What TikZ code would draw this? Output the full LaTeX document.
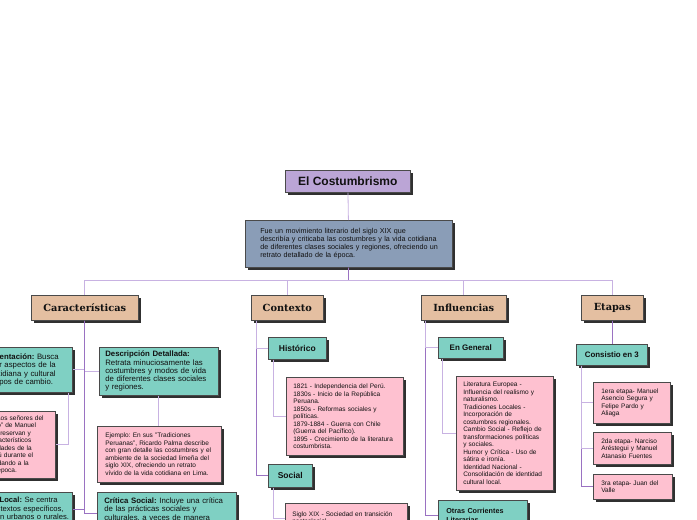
\documentclass[tikz,border=0pt]{standalone}
\usepackage{fontspec}
\setmainfont{Liberation Sans}
\newfontfamily\hdrfont{DejaVu Serif}
\usetikzlibrary{shadows}
\frenchspacing
\definecolor{titlec}{HTML}{BBA5D6}
\definecolor{descc}{HTML}{8A9DB7}
\definecolor{hdrc}{HTML}{E4BFA1}
\definecolor{tealc}{HTML}{7FD0C3}
\definecolor{pinkc}{HTML}{FEC1D0}
\definecolor{bordc}{HTML}{4A4A4A}
\definecolor{shadc}{HTML}{303030}
\definecolor{linec}{HTML}{9A72C2}
\definecolor{linel}{HTML}{C8B2E2}
\definecolor{textc}{HTML}{111111}
\begin{document}
\begin{tikzpicture}[x=1pt,y=-1pt,
 base/.style={draw=bordc, line width=0.6pt, anchor=north west, inner sep=0pt, text=textc,
   drop shadow={shadow xshift=2.5pt, shadow yshift=-2.5pt, fill=shadc, opacity=1}},
 sz/.style 2 args={minimum width=#1pt, minimum height=#2pt},
 ls/.style={execute at begin node={\leftskip=#1pt\relax}},
 titlebox/.style={base, fill=titlec, font=\bfseries\fontsize{12}{14}\selectfont},
 descbox/.style={base, fill=descc, align=left, font=\fontsize{7.2}{7.8}\selectfont},
 hdrbox/.style={base, fill=hdrc, font=\hdrfont\bfseries\fontsize{9.8}{11}\selectfont},
 tealbox/.style={base, fill=tealc, align=left, font=\fontsize{7.8}{8.3}\selectfont},
 lblbox/.style={base, fill=tealc, font=\bfseries\fontsize{8.5}{10}\selectfont},
 pinkbox/.style={base, fill=pinkc, align=left, font=\fontsize{6.5}{7.5}\selectfont},
 conn/.style={draw=linec, line width=0.8pt},
 connl/.style={draw=linel, line width=0.8pt},
]
\useasboundingbox (0,0) rectangle (697,520);
\fill[white] (0,0) rectangle (697,520);
\clip (0,0) rectangle (697,520);

% top
\node[titlebox, sz={125}{22}] (title) at (285,170) {El Costumbrismo};
\node[descbox, sz={207}{47}, text width=194pt, ls=8.5] (desc) at (245,220) {Fue un movimiento literario del siglo XIX que\\ describía y criticaba las costumbres y la vida cotidiana\\ de diferentes clases sociales y regiones, ofreciendo un\\ retrato detallado de la época.};

% headers
\node[hdrbox, sz={107}{25}] (car) at (31,295) {Características};
\node[hdrbox, sz={72}{25}] (ctx) at (251,295) {Contexto};
\node[hdrbox, sz={85}{25}] (inf) at (421,295) {Influencias};
\node[hdrbox, sz={62}{25}] (eta) at (581,295) {Etapas};

% Caracteristicas
\node[tealbox, sz={106}{45}, text width=92pt] (doc) at (-34,347) {\textbf{Documentación:} Busca\\ registrar aspectos de la\\ vida cotidiana y cultural\\ en tiempos de cambio.};
\node[tealbox, sz={119}{48}, text width=107pt] (descr) at (99,347) {\textbf{Descripción Detallada:}\\ Retrata minuciosamente las\\ costumbres y modos de vida\\ de diferentes clases sociales\\ y regiones.};
\node[pinkbox, sz={106}{67}, text width=90pt] (lpink) at (-51,411) {Ejemplo: En "Los señores del\\ Pueblo Limeño" de Manuel\\ Ascencio, se preservan y\\ los rasgos característicos\\ y las peculiaridades de la\\ vida en el Perú durante el\\ siglo XIX, ayudando a la\\ imagen de la época.};
\node[pinkbox, sz={124}{56}, text width=108pt] (ej) at (97,426) {Ejemplo: En sus "Tradiciones\\ Peruanas", Ricardo Palma describe\\ con gran detalle las costumbres y el\\ ambiente de la sociedad limeña del\\ siglo XIX, ofreciendo un retrato\\ vívido de la vida cotidiana en Lima.};
\node[tealbox, sz={102}{34}, text width=100pt, ls=6, font=\fontsize{7.6}{8.3}\selectfont] (local) at (-30,492) {\textbf{Color Local:} Se centra\\ en contextos específicos,\\ ya sean urbanos o rurales.};
\node[tealbox, sz={139}{42}, text width=125pt] (crit) at (97,492) {\textbf{Crítica Social:} Incluye una crítica\\ de las prácticas sociales y\\ culturales, a veces de manera\\ satírica.};

% Contexto
\node[lblbox, sz={58}{22}] (hist) at (268,337) {Histórico};
\node[pinkbox, sz={117}{78}, text width=103pt] (hpink) at (286,377) {1821 - Independencia del Perú.\\ 1830s - Inicio de la República\\ Peruana.\\ 1850s - Reformas sociales y\\ políticas.\\ 1879-1884 - Guerra con Chile\\ (Guerra del Pacífico).\\ 1895 - Crecimiento de la literatura\\ costumbrista.};
\node[lblbox, sz={44}{23}] (soc) at (268,464) {Social};
\node[pinkbox, sz={122}{30}, text width=108pt] (spink) at (285,503) {Siglo XIX - Sociedad en transición\\ postcolonial.};

% Influencias
\node[lblbox, sz={65}{21}, font=\bfseries\fontsize{8}{10}\selectfont] (eng) at (438,337) {En General};
\node[pinkbox, sz={97}{114}, text width=83pt] (epink) at (456,376) {Literatura Europea -\\ Influencia del realismo y\\ naturalismo.\\ Tradiciones Locales -\\ Incorporación de\\ costumbres regionales.\\ Cambio Social - Reflejo de\\ transformaciones políticas\\ y sociales.\\ Humor y Crítica - Uso de\\ sátira e ironía.\\ Identidad Nacional -\\ Consolidación de identidad\\ cultural local.};
\node[tealbox, sz={89}{30}, text width=73pt, font=\bfseries\fontsize{7.2}{8.5}\selectfont] (otras) at (438,500) {Otras Corrientes\\ Literarias};

% Etapas
\node[lblbox, sz={71}{21}, font=\bfseries\fontsize{7.9}{10}\selectfont] (cons) at (576,344) {Consistio en 3};
\node[pinkbox, sz={77}{41}, text width=69pt, ls=4] (e1) at (593,382) {1era etapa- Manuel\\ Asencio Segura y\\ Felipe Pardo y\\ Aliaga};
\node[pinkbox, sz={78}{32}, text width=70pt, ls=4] (e2) at (593,432) {2da etapa- Narciso\\ Aréstegui y Manuel\\ Atanasio Fuentes};
\node[pinkbox, sz={79}{25}, text width=71pt, ls=4] (e3) at (593,474) {3ra etapa- Juan del\\ Valle};

% connectors
\coordinate (bar) at (348.5,280);
\draw[connl] (title) -- (desc);
\draw[conn] (desc) -- (bar);
\draw[connl] (bar) -| (car.north);
\draw[connl] (bar) -| (ctx.north);
\draw[connl] (bar) -| (inf.north);
\draw[connl] (bar) -| (eta.north);

\draw[conn] (car.south) |- (local.east);
\draw[connl] (car.south) |- (doc.east);
\draw[connl] (car.south) |- (descr.west);
\draw[conn] (car.south) |- (crit.west);
\draw[connl] ([xshift=-4pt]doc.south east) |- (lpink.east);
\draw[connl] (descr.south) -- (descr.south |- ej.north);

\draw[conn] ([xshift=5pt]ctx.south west) |- (soc.west);
\draw[connl] ([xshift=5pt]ctx.south west) |- (hist.west);
\draw[connl] ([xshift=5pt]hist.south west) |- (hpink.west);
\draw[connl] ([xshift=5pt]soc.south west) |- (spink.west);

\draw[conn] ([xshift=4pt]inf.south west) |- (otras.west);
\draw[connl] ([xshift=4pt]inf.south west) |- (eng.west);
\draw[connl] ([xshift=4pt]eng.south west) |- (epink.west);

\draw[conn] (eta.south) -- (eta.south |- cons.north);
\draw[conn] ([xshift=5pt]cons.south west) |- (e3.west);
\draw[connl] ([xshift=5pt]cons.south west) |- (e1.west);
\draw[connl] ([xshift=5pt]cons.south west) |- (e2.west);
\end{tikzpicture}
\end{document}
